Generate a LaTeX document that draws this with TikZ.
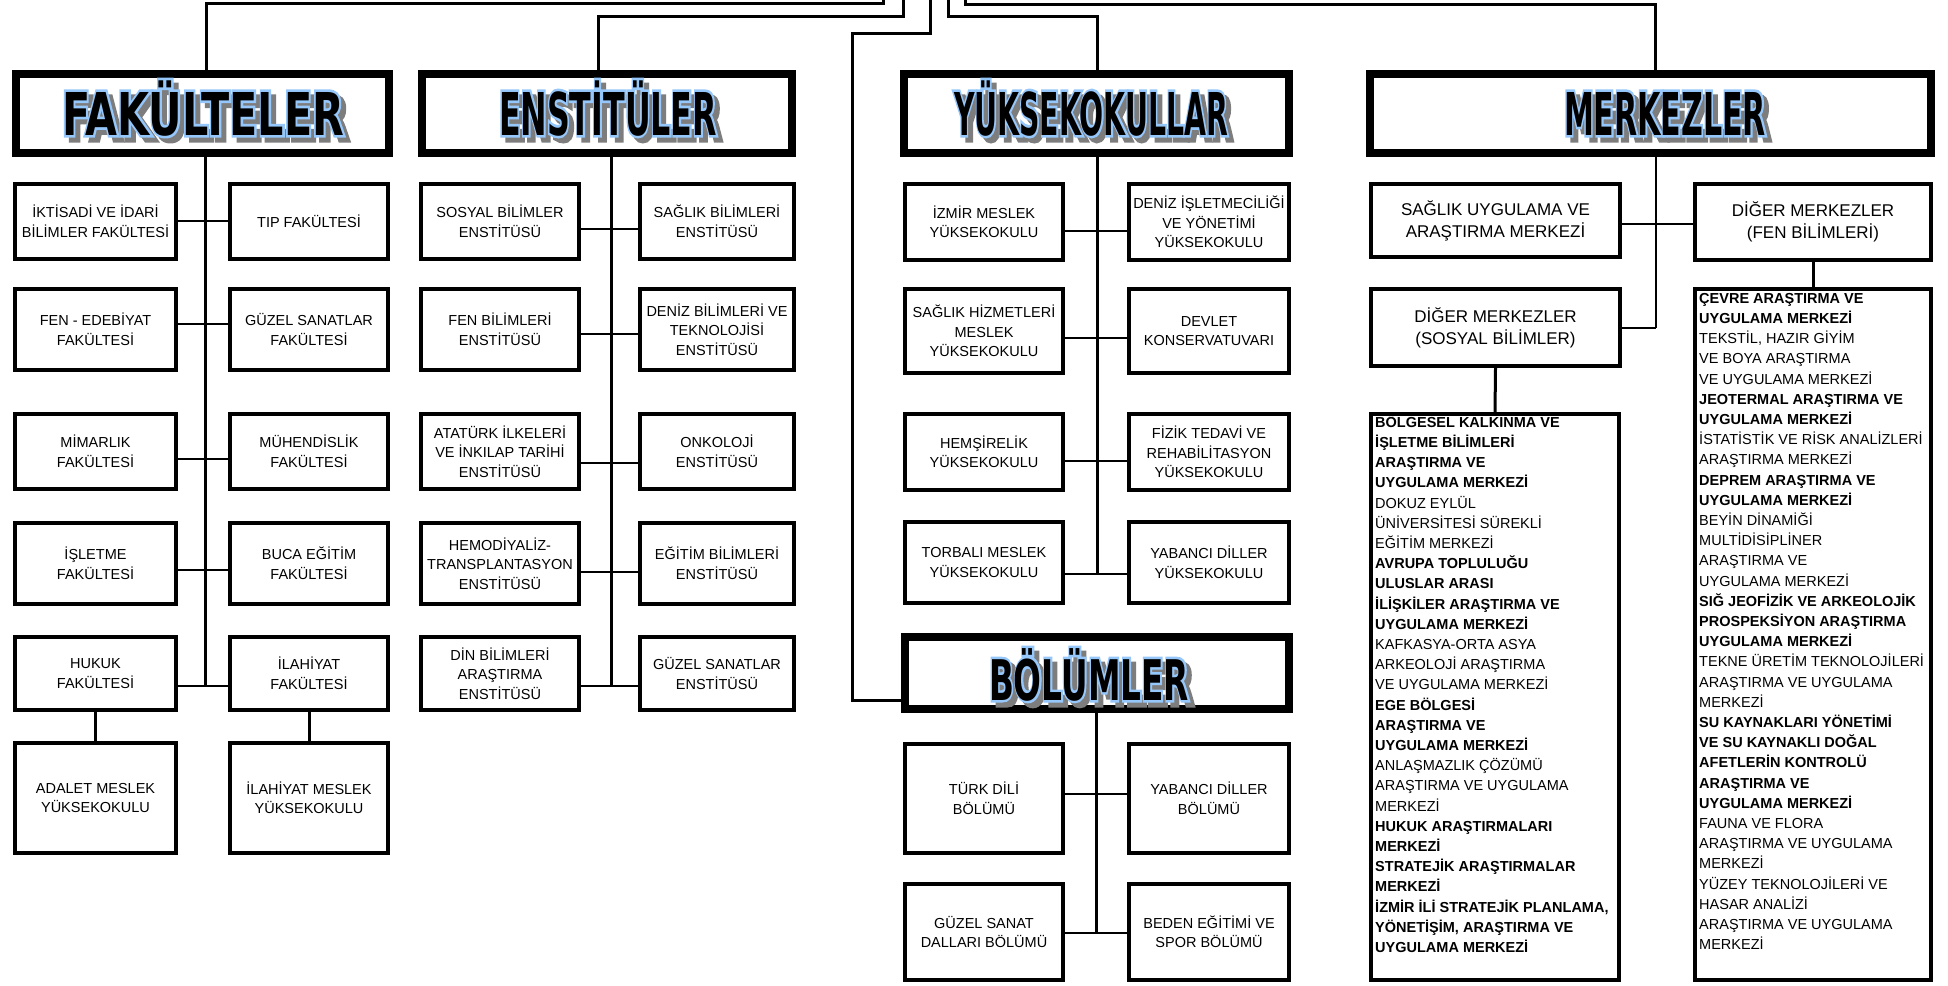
\documentclass[tikz,border=0pt]{standalone}
\usepackage{fontspec}
\setmainfont{Liberation Sans}
\newfontfamily\waFont{DejaVu Sans}
\usepackage{graphicx}
\usetikzlibrary{calc}
\definecolor{waBlue}{RGB}{150,200,250}
\definecolor{waGray}{RGB}{125,125,125}
\newlength\waW
\newcommand\waGlyphs{\scalebox{\waSx}[\waSy]{\fontsize{10}{12}\waFont\bfseries\waCur}}
% stroked copy: colour, pdf stroke colour, line width
\newcommand\waStroked[3]{\textcolor{#1}{\special{pdf:literal direct 2 Tr #2 RG #3 w}\waGlyphs\special{pdf:literal direct 0 Tr}}}
% width of the black letters, vertical scale, text
\newcommand\waText[3]{%
  \def\waCur{#3}\def\waSy{#2}%
  \settowidth\waW{\fontsize{10}{12}\waFont\bfseries #3}%
  \pgfmathsetmacro\waSx{#1/\waW}%
  \rlap{\hspace*{5pt}\raisebox{-5pt}{\waStroked{waGray}{0.49 0.49 0.49}{0.9}}}%
  \rlap{\waStroked{waBlue}{0.59 0.78 0.98}{0.9}}%
  \textcolor{black}{\waGlyphs}}
\tikzset{
  box/.style={draw, line width=4pt, inner sep=0pt, align=center, font=\fontsize{14.5}{19.5}\selectfont},
  mbox/.style={box, font=\fontsize{17}{22}\selectfont},
  hdr/.style={draw, line width=8pt, inner sep=0pt},
  wa/.style={anchor=base, inner sep=0pt},
  topline/.style={line width=3pt},
  spine/.style={line width=3pt},
  conn/.style={line width=2.5pt},
  thinconn/.style={line width=1.5pt},
  listtext/.style={anchor=north west, inner sep=0pt, align=left, font=\fontsize{14.5}{20.2}\selectfont},
}
% box: name, x1, y1, x2, y2, text
\newcommand\bx[7][box]{\node[#1, minimum width={#5-#3-4}, minimum height={#6-#4-4}] (#2) at ({(#3+#5)/2},{(#4+#6)/2}) {#7};}
\newcommand\hb[5]{\node[hdr, minimum width={#4-#2-8}, minimum height={#5-#3-8}] (#1) at ({(#2+#4)/2},{(#3+#5)/2}) {};}
\begin{document}
\begin{tikzpicture}[x=1pt,y=-1pt]
\fill[white] (0,0) rectangle (1948,985);
\useasboundingbox (0,0) rectangle (1948,985);

% ---------- headers ----------
\hb{hF}{12}{70}{393}{157}
\hb{hE}{418}{70}{796}{157}
\hb{hY}{900}{70}{1293}{157}
\hb{hM}{1366}{70}{1935}{157}
\hb{hB}{901}{633}{1293}{713}
\node[wa] (hFt) at (203,135) {\waText{282}{5.9}{FAKÜLTELER}};
\node[wa] (hEt) at (608,135) {\waText{218}{5.9}{ENSTİTÜLER}};
\node[wa] (hYt) at (1091,135) {\waText{274}{5.9}{YÜKSEKOKULLAR}};
\node[wa] (hMt) at (1665,135) {\waText{202}{5.9}{MERKEZLER}};
\node[wa] (hBt) at (1089,700) {\waText{200}{5.6}{BÖLÜMLER}};

% ---------- top connectors ----------
\coordinate (tF) at (883,0);  \coordinate (tFc) at (206,3);
\coordinate (tE) at (903,0);  \coordinate (tEc) at (598,16);
\coordinate (tB) at (930,0);  \coordinate (tBc) at (852,33); \coordinate (bj) at (852,700);
\coordinate (tY) at (948,0);  \coordinate (tYc) at (1097,16);
\coordinate (tM) at (965,0);  \coordinate (tMc) at (1655,4);
\draw[topline] (tF) |- (tFc) -- (tFc |- hF.north);
\draw[topline] (tE) |- (tEc) -- (tEc |- hE.north);
\draw[topline] (tB) |- (tBc) -- (bj) -- (bj -| hB.west);
\draw[topline] (tY) |- (tYc) -- (tYc |- hY.north);
\draw[topline] (tM) |- (tMc) -- (tMc |- hM.north);

% ---------- faculties ----------
\bx{f1l}{13}{182}{178}{261}{İKTİSADİ VE İDARİ\\BİLİMLER FAKÜLTESİ}
\bx{f1r}{228}{182}{390}{261}{TIP FAKÜLTESİ}
\bx{f2l}{13}{287}{178}{372}{FEN - EDEBİYAT\\FAKÜLTESİ}
\bx{f2r}{228}{287}{390}{372}{GÜZEL SANATLAR\\FAKÜLTESİ}
\bx{f3l}{13}{412}{178}{491}{MİMARLIK\\FAKÜLTESİ}
\bx{f3r}{228}{412}{390}{491}{MÜHENDİSLİK\\FAKÜLTESİ}
\bx{f4l}{13}{521}{178}{606}{İŞLETME\\FAKÜLTESİ}
\bx{f4r}{228}{521}{390}{606}{BUCA EĞİTİM\\FAKÜLTESİ}
\bx{f5l}{13}{635}{178}{712}{HUKUK\\FAKÜLTESİ}
\bx{f5r}{228}{635}{390}{712}{İLAHİYAT\\FAKÜLTESİ}
\bx{f6l}{13}{741}{178}{855}{ADALET MESLEK\\YÜKSEKOKULU}
\bx{f6r}{228}{741}{390}{855}{İLAHİYAT MESLEK\\YÜKSEKOKULU}
\coordinate (fj1) at (205,221);
\coordinate (fj2) at (205,324);
\coordinate (fj3) at (205,459);
\coordinate (fj4) at (205,570);
\coordinate (fj5) at (205,686);
\draw[spine] (fj5 |- hF.south) -- (fj5);
\foreach \i in {1,...,5}{\draw[conn] (f\i l.east |- fj\i) -- (f\i r.west |- fj\i);}
\draw[spine] (f5l.south) -- (f6l.north);
\draw[spine] (f5r.south) -- (f6r.north);

% ---------- institutes ----------
\bx{e1l}{419}{182}{581}{261}{SOSYAL BİLİMLER\\ENSTİTÜSÜ}
\bx{e1r}{638}{182}{796}{261}{SAĞLIK BİLİMLERİ\\ENSTİTÜSÜ}
\bx{e2l}{419}{287}{581}{372}{FEN BİLİMLERİ\\ENSTİTÜSÜ}
\bx{e2r}{638}{287}{796}{372}{DENİZ BİLİMLERİ VE\\TEKNOLOJİSİ\\ENSTİTÜSÜ}
\bx{e3l}{419}{412}{581}{491}{ATATÜRK İLKELERİ\\VE İNKILAP TARİHİ\\ENSTİTÜSÜ}
\bx{e3r}{638}{412}{796}{491}{ONKOLOJİ\\ENSTİTÜSÜ}
\bx{e4l}{419}{521}{581}{606}{HEMODİYALİZ-\\TRANSPLANTASYON\\ENSTİTÜSÜ}
\bx{e4r}{638}{521}{796}{606}{EĞİTİM BİLİMLERİ\\ENSTİTÜSÜ}
\bx{e5l}{419}{635}{581}{712}{DİN BİLİMLERİ\\ARAŞTIRMA\\ENSTİTÜSÜ}
\bx{e5r}{638}{635}{796}{712}{GÜZEL SANATLAR\\ENSTİTÜSÜ}
\coordinate (ej1) at (611,229);
\coordinate (ej2) at (611,334);
\coordinate (ej3) at (611,463);
\coordinate (ej4) at (611,572);
\coordinate (ej5) at (611,686);
\draw[spine] (ej5 |- hE.south) -- (ej5);
\foreach \i in {1,...,5}{\draw[conn] (e\i l.east |- ej\i) -- (e\i r.west |- ej\i);}

% ---------- schools ----------
\bx{y1l}{903}{182}{1065}{262}{İZMİR MESLEK\\YÜKSEKOKULU}
\bx{y1r}{1127}{182}{1291}{262}{DENİZ İŞLETMECİLİĞİ\\VE YÖNETİMİ\\YÜKSEKOKULU}
\bx{y2l}{903}{287}{1065}{375}{SAĞLIK HİZMETLERİ\\MESLEK\\YÜKSEKOKULU}
\bx{y2r}{1127}{287}{1291}{375}{DEVLET\\KONSERVATUVARI}
\bx{y3l}{903}{412}{1065}{492}{HEMŞİRELİK\\YÜKSEKOKULU}
\bx{y3r}{1127}{412}{1291}{492}{FİZİK TEDAVİ VE\\REHABİLİTASYON\\YÜKSEKOKULU}
\bx{y4l}{903}{520}{1065}{605}{TORBALI MESLEK\\YÜKSEKOKULU}
\bx{y4r}{1127}{520}{1291}{605}{YABANCI DİLLER\\YÜKSEKOKULU}
\coordinate (yj1) at (1097,231);
\coordinate (yj2) at (1097,338);
\coordinate (yj3) at (1097,461);
\coordinate (yj4) at (1097,574);
\draw[spine] (yj4 |- hY.south) -- (yj4);
\foreach \i in {1,...,4}{\draw[conn] (y\i l.east |- yj\i) -- (y\i r.west |- yj\i);}

% ---------- departments ----------
\bx{b1l}{903}{742}{1065}{855}{TÜRK DİLİ\\BÖLÜMÜ}
\bx{b1r}{1127}{742}{1291}{855}{YABANCI DİLLER\\BÖLÜMÜ}
\bx{b2l}{903}{882}{1065}{982}{GÜZEL SANAT\\DALLARI BÖLÜMÜ}
\bx{b2r}{1127}{882}{1291}{982}{BEDEN EĞİTİMİ VE\\SPOR BÖLÜMÜ}
\coordinate (bj1) at (1096,794);
\coordinate (bj2) at (1096,933);
\draw[spine] (bj2 |- hB.south) -- (bj2);
\foreach \i in {1,2}{\draw[conn] (b\i l.east |- bj\i) -- (b\i r.west |- bj\i);}

% ---------- centres ----------
\bx[mbox]{m1}{1369}{182}{1622}{259}{SAĞLIK UYGULAMA VE\\ARAŞTIRMA MERKEZİ}
\bx[mbox]{m2}{1693}{182}{1933}{262}{DİĞER MERKEZLER\\(FEN BİLİMLERİ)}
\bx[mbox]{m3}{1369}{287}{1622}{368}{DİĞER MERKEZLER\\(SOSYAL BİLİMLER)}
\bx{m4}{1369}{412}{1621}{982}{}
\bx{m5}{1693}{287}{1933}{982}{}
\coordinate (mj1) at (1656,224);
\coordinate (mj2) at (1656,328);
\draw[thinconn] (mj2 |- hM.south) -- (mj2);
\draw[thinconn] (m1.east |- mj1) -- (m2.west |- mj1);
\draw[thinconn] (m3.east |- mj2) -- (mj2);
\draw[spine] (m3.south) -- (m4.north);
\draw[spine] (m2.south) -- (m5.north);

\node[listtext] (m4t) at (1375,412) {\rule{0pt}{15pt}\textbf{BÖLGESEL KALKINMA VE}\\
\textbf{İŞLETME BİLİMLERİ}\\
\textbf{ARAŞTIRMA VE}\\
\textbf{UYGULAMA MERKEZİ}\\
DOKUZ EYLÜL\\
ÜNİVERSİTESİ SÜREKLİ\\
EĞİTİM MERKEZİ\\
\textbf{AVRUPA TOPLULUĞU}\\
\textbf{ULUSLAR ARASI}\\
\textbf{İLİŞKİLER ARAŞTIRMA VE}\\
\textbf{UYGULAMA MERKEZİ}\\
KAFKASYA-ORTA ASYA\\
ARKEOLOJİ ARAŞTIRMA\\
VE UYGULAMA MERKEZİ\\
\textbf{EGE BÖLGESİ}\\
\textbf{ARAŞTIRMA VE}\\
\textbf{UYGULAMA MERKEZİ}\\
ANLAŞMAZLIK ÇÖZÜMÜ\\
ARAŞTIRMA VE UYGULAMA\\
MERKEZİ\\
\textbf{HUKUK ARAŞTIRMALARI}\\
\textbf{MERKEZİ}\\
\textbf{STRATEJİK ARAŞTIRMALAR}\\
\textbf{MERKEZİ}\\
\textbf{İZMİR İLİ STRATEJİK PLANLAMA,}\\
\textbf{YÖNETİŞİM, ARAŞTIRMA VE}\\
\textbf{UYGULAMA MERKEZİ}};

\node[listtext] (m5t) at (1699,288) {\rule{0pt}{15pt}\textbf{ÇEVRE ARAŞTIRMA VE}\\
\textbf{UYGULAMA MERKEZİ}\\
TEKSTİL, HAZIR GİYİM\\
VE BOYA ARAŞTIRMA\\
VE UYGULAMA MERKEZİ\\
\textbf{JEOTERMAL ARAŞTIRMA VE}\\
\textbf{UYGULAMA MERKEZİ}\\
İSTATİSTİK VE RİSK ANALİZLERİ\\
ARAŞTIRMA MERKEZİ\\
\textbf{DEPREM ARAŞTIRMA VE}\\
\textbf{UYGULAMA MERKEZİ}\\
BEYİN DİNAMİĞİ\\
MULTİDİSİPLİNER\\
ARAŞTIRMA VE\\
UYGULAMA MERKEZİ\\
\textbf{SIĞ JEOFİZİK VE ARKEOLOJİK}\\
\textbf{PROSPEKSİYON ARAŞTIRMA}\\
\textbf{UYGULAMA MERKEZİ}\\
TEKNE ÜRETİM TEKNOLOJİLERİ\\
ARAŞTIRMA VE UYGULAMA\\
MERKEZİ\\
\textbf{SU KAYNAKLARI YÖNETİMİ}\\
\textbf{VE SU KAYNAKLI DOĞAL}\\
\textbf{AFETLERİN KONTROLÜ}\\
\textbf{ARAŞTIRMA VE}\\
\textbf{UYGULAMA MERKEZİ}\\
FAUNA VE FLORA\\
ARAŞTIRMA VE UYGULAMA\\
MERKEZİ\\
YÜZEY TEKNOLOJİLERİ VE\\
HASAR ANALİZİ\\
ARAŞTIRMA VE UYGULAMA\\
MERKEZİ};
\end{tikzpicture}
\end{document}
